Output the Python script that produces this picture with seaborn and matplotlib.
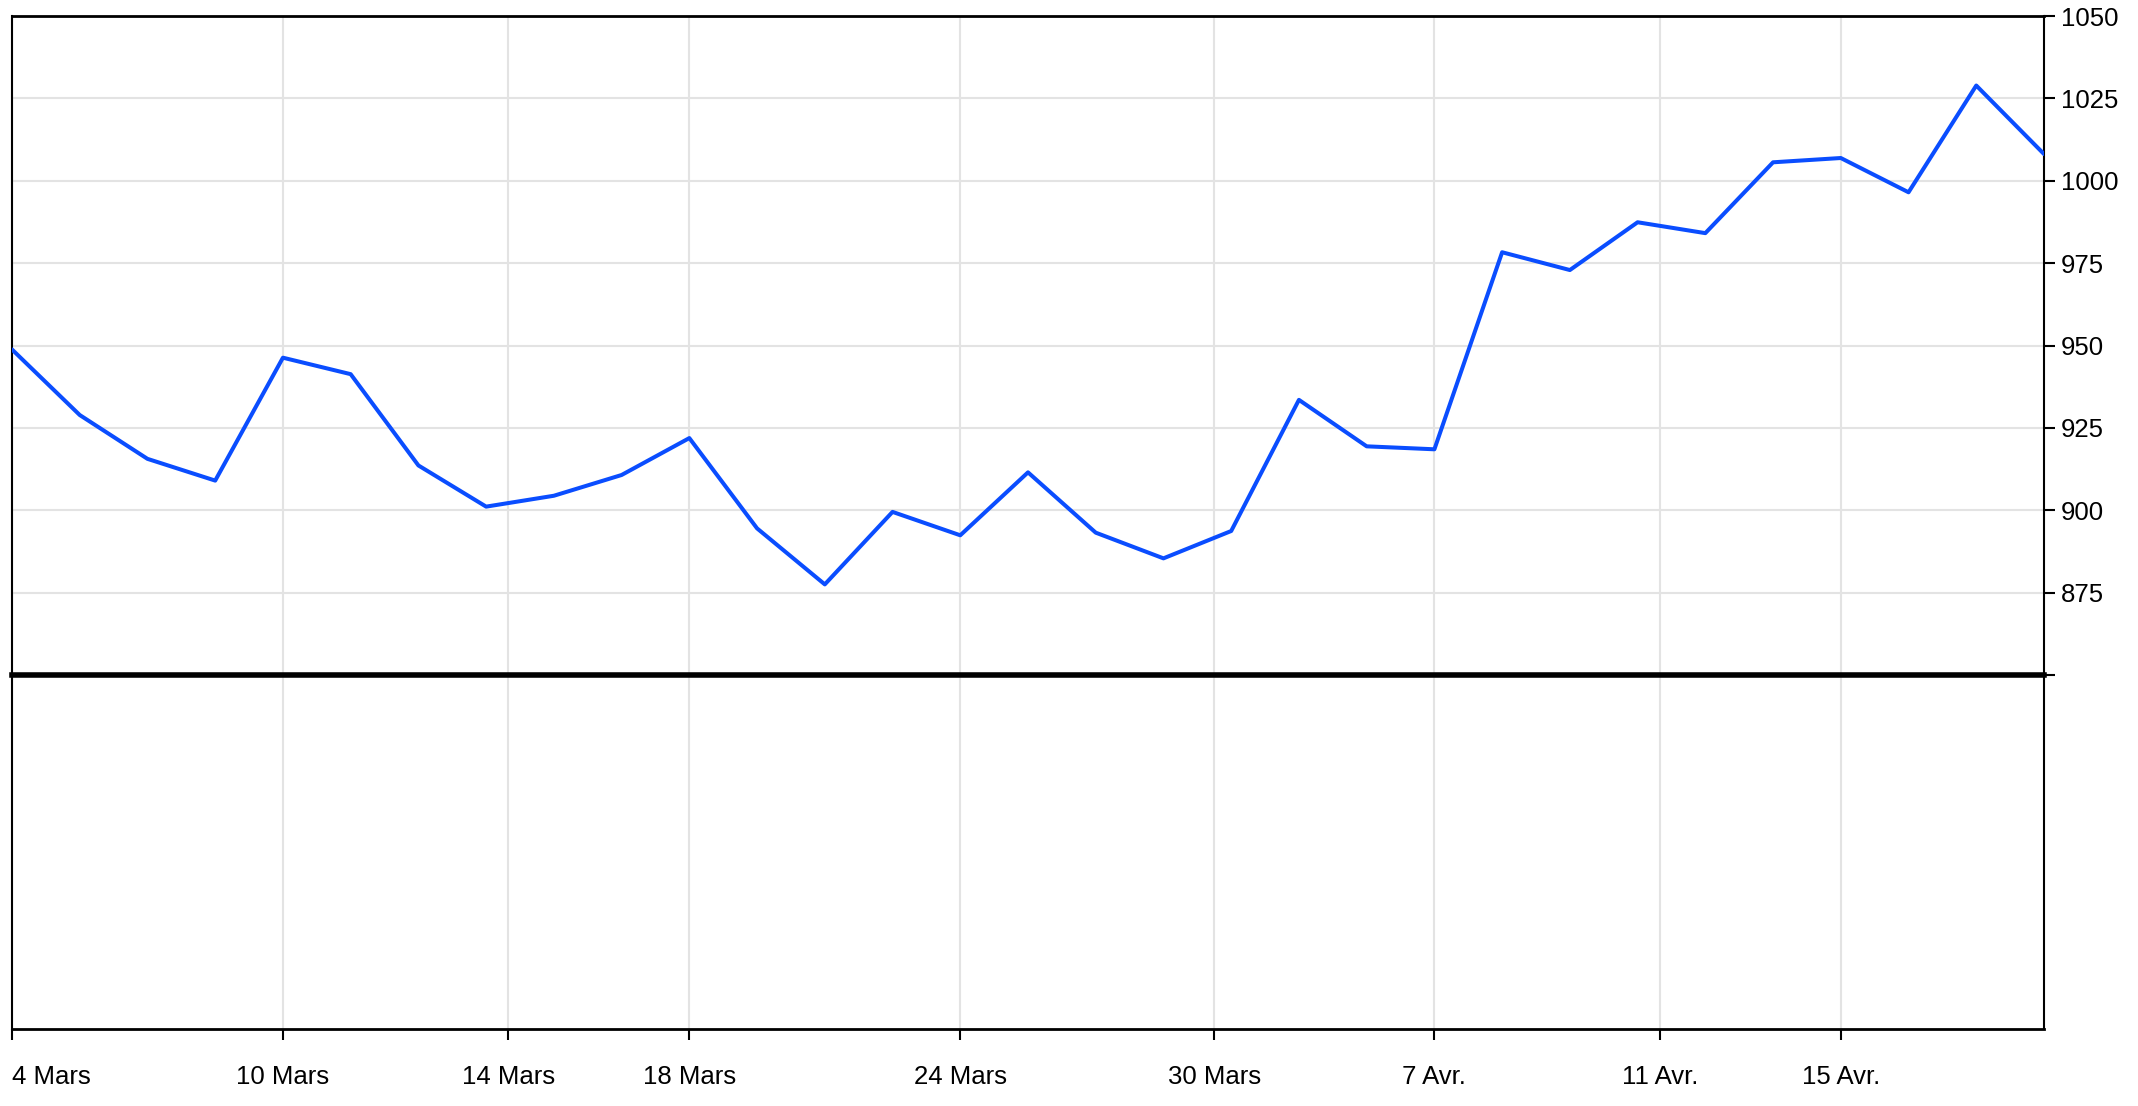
import matplotlib
matplotlib.use("Agg")
import matplotlib.pyplot as plt
import seaborn as sns
import pandas as pd

# ---- data ----
session = list(range(31))
price = [948.8, 928.9, 915.6, 909.0, 946.3, 941.3, 913.6, 901.1, 904.4, 910.7,
         921.9, 894.5, 877.5, 899.5, 892.4, 911.5, 893.2, 885.4, 893.7, 933.5,
         919.4, 918.5, 978.3, 972.9, 987.4, 984.1, 1005.6, 1006.9, 996.5, 1028.9,
         1008.1]
tick_pos = [0, 4, 7.33, 10, 14, 17.75, 21, 24.33, 27]
tick_labels = ["4 Mars", "10 Mars", "14 Mars", "18 Mars", "24 Mars",
               "30 Mars", "7 Avr.", "11 Avr.", "15 Avr."]
y_ticks = [850, 875, 900, 925, 950, 975, 1000, 1025, 1050]
y_labels = ["", "875", "900", "925", "950", "975", "1000", "1025", "1050"]

df = pd.DataFrame({"session": session, "price": price})

sns.set_style("white")
plt.rcParams["font.family"] = ["Liberation Sans", "DejaVu Sans"]

W, H = 2138, 1106
fig = plt.figure(figsize=(W / 100, H / 100), dpi=100)
left, right = 12 / W, 2044 / W
top, sep, bot = 1 - 16 / H, 1 - 675 / H, 1 - 1029 / H
ax = fig.add_axes([left, sep, right - left, top - sep])
ax2 = fig.add_axes([left, bot, right - left, sep - bot], sharex=ax)
ax.set_zorder(3)
ax.patch.set_alpha(0)

grid_c = "#e3e3e3"
sns.lineplot(data=df, x="session", y="price", ax=ax, color="#0a4dff",
             linewidth=2.9, zorder=3)

ax.set_xlim(0, 30)
ax.set_ylim(850, 1050)
ax.set_xticks(tick_pos)
ax.set_yticks(y_ticks)
ax.set_yticklabels(y_labels)
ax.yaxis.tick_right()
ax.tick_params(axis="y", which="both", right=True, left=False, length=8,
               width=1.5, color="black", pad=4, labelsize=18.5, labelcolor="black")
ax.tick_params(axis="x", bottom=False, labelbottom=False)
ax.grid(True, color=grid_c, linewidth=1.5)
ax.set_xlabel("")
ax.set_ylabel("")
for s in ["left", "right"]:
    ax.spines[s].set_linewidth(1.5)
    ax.spines[s].set_color("black")
ax.spines["top"].set_linewidth(2)
ax.spines["top"].set_color("black")
ax.spines["bottom"].set_linewidth(4)
ax.spines["bottom"].set_color("black")
ax.spines["bottom"].set_zorder(5)

ax2.set_ylim(0, 1)
ax2.set_yticks([])
ax2.set_xticks(tick_pos)
ax2.set_xticklabels(tick_labels)
ax2.tick_params(axis="x", bottom=True, length=8, width=1.5, color="black",
                pad=18, labelsize=18.5, labelcolor="black")
ax2.xaxis.grid(True, color=grid_c, linewidth=1.5)
ax2.yaxis.grid(False)
ax2.spines["top"].set_visible(False)
ax2.spines["left"].set_linewidth(1.5)
ax2.spines["right"].set_linewidth(1.5)
ax2.spines["bottom"].set_linewidth(2)
for s in ["left", "right", "bottom"]:
    ax2.spines[s].set_color("black")
ax2.get_xticklabels()[0].set_horizontalalignment("left")

fig.savefig("out.png", dpi=100, facecolor="white")
